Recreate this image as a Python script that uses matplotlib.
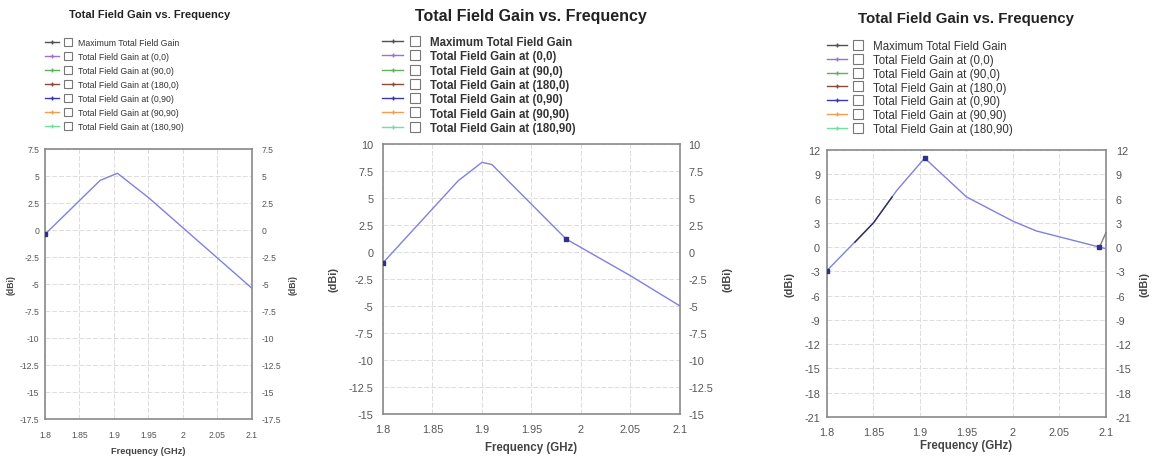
import numpy as np
import matplotlib.pyplot as plt
from matplotlib.lines import Line2D
from matplotlib.legend_handler import HandlerTuple

plt.rcParams['font.family'] = ['Liberation Sans', 'DejaVu Sans']
plt.rcParams['axes.unicode_minus'] = False

# ---- data ----
freq_ticks = [1.8, 1.85, 1.9, 1.95, 2.0, 2.05, 2.1]
freq_tick_labels = ['1.8', '1.85', '1.9', '1.95', '2', '2.05', '2.1']

legend_labels = ['Maximum Total Field Gain', 'Total Field Gain at (0,0)', 'Total Field Gain at (90,0)',
                 'Total Field Gain at (180,0)', 'Total Field Gain at (0,90)', 'Total Field Gain at (90,90)',
                 'Total Field Gain at (180,90)']
legend_colors = ['#505050', '#a070d0', '#60b060', '#8a4a3a', '#3838b0', '#f0a050', '#70e0a0']

# panel 1
freq1 = [1.8, 1.88, 1.905, 1.95, 2.1]
gain1 = [-0.4, 4.6, 5.25, 3.0, -5.4]
mark1 = [0]
yticks1 = [7.5, 5, 2.5, 0, -2.5, -5, -7.5, -10, -12.5, -15, -17.5]

# panel 2
freq2 = [1.8, 1.876, 1.9, 1.91, 1.985, 2.05, 2.1]
gain2 = [-1.0, 6.6, 8.3, 8.1, 1.2, -2.2, -5.0]
mark2 = [0, 4]
yticks2 = [10, 7.5, 5, 2.5, 0, -2.5, -5, -7.5, -10, -12.5, -15]

# panel 3
freq3 = [1.8, 1.85, 1.875, 1.905, 1.95, 2.0, 2.025, 2.093, 2.1]
gain3 = [-2.9, 3.0, 7.0, 11.0, 6.2, 3.2, 2.0, 0.0, -0.2]
mark3 = [0, 3, 7]
yticks3 = [12, 9, 6, 3, 0, -3, -6, -9, -12, -15, -18, -21]
max_freq3 = [1.83, 1.85, 1.87]
max_gain3 = [0.6, 3.0, 6.2]
max_end_freq3 = [2.093, 2.1]
max_end_gain3 = [0.0, 1.8]

W, H = 1156, 460
fig = plt.figure(figsize=(W / 100, H / 100), dpi=100)


def px(x0, y0, x1, y1):
    return [x0 / W, 1 - y1 / H, (x1 - x0) / W, (y1 - y0) / H]


def fmt(v):
    return ('%g' % v)


def panel(rect, freq, gain, marks, yticks, fs, pads, xlpad, ylpads, title, title_xy, title_fs,
          leg_xy, leg_fs, leg_sp, leg_hl, leg_w):
    ax = fig.add_axes(px(*rect))
    ax.plot(freq, gain, color='#8080e0', lw=1.0, zorder=3)
    ax.plot([freq[i] for i in marks], [gain[i] for i in marks], 's', color='#30308a', ms=3.5, zorder=4)
    ax.set_xlim(1.8, 2.1)
    ax.set_ylim(min(yticks), max(yticks))
    ax.set_xticks(freq_ticks)
    ax.set_xticklabels(freq_tick_labels)
    ax.set_yticks(yticks)
    ax.set_yticklabels([fmt(v) for v in yticks])
    ax.grid(True, color='#dcdcdc', lw=0.7, ls=(0, (5, 2)))
    for s in ax.spines.values():
        s.set_color('#8a8a8a')
        s.set_linewidth(1.2)
    ax.tick_params(axis='x', length=0, labelsize=fs, colors='#555555', pad=pads[0])
    ax.tick_params(axis='y', length=0, labelsize=fs, colors='#555555', pad=pads[1])
    ax.set_xlabel('Frequency (GHz)', fontsize=fs + 0.5, fontweight='bold', color='#444444', labelpad=xlpad)
    ax.set_ylabel('(dBi)', fontsize=fs, fontweight='bold', color='#444444', labelpad=ylpads[0])
    ax2 = ax.twinx()
    ax2.set_ylim(ax.get_ylim())
    ax2.set_yticks(yticks)
    ax2.set_yticklabels([fmt(v) for v in yticks])
    ax2.tick_params(length=0, labelsize=fs, colors='#555555', pad=pads[2])
    for s in ax2.spines.values():
        s.set_visible(False)
    ax2.set_ylabel('(dBi)', fontsize=fs, fontweight='bold', color='#444444', labelpad=ylpads[1])
    fig.text(title_xy[0] / W, 1 - title_xy[1] / H, title, ha='center', va='center',
             fontsize=title_fs, fontweight='bold', color='#222222')
    handles = []
    for c in legend_colors:
        ln = Line2D([], [], color=c, lw=1.0, marker='+', ms=3, mew=1.0)
        box = Line2D([], [], ls='none', marker='s', ms=leg_fs * 0.85, mfc='white', mec='#777777', mew=0.8)
        handles.append((ln, box))
    ax.legend(handles, legend_labels, loc='upper left', bbox_to_anchor=(leg_xy[0] / W, 1 - leg_xy[1] / H),
              bbox_transform=fig.transFigure, frameon=False,
              prop={'size': leg_fs, 'weight': leg_w}, labelspacing=leg_sp,
              handlelength=leg_hl, handletextpad=0.4, borderpad=0, borderaxespad=0,
              handler_map={tuple: HandlerTuple(ndivide=2, pad=0.1)},
              labelcolor='#333333')
    return ax


ax1 = panel((45, 150, 252, 420), freq1, gain1, mark1, yticks1, 6.2, (8, 4, 7), 5, (3, 5),
            'Total Field Gain vs. Frequency', (150, 15), 8, (45, 39), 6.3, 0.58, 3.4, 'normal')
ax2 = panel((383, 145, 680, 415), freq2, gain2, mark2, yticks2, 7.8, (7, 7, 6), 5, (7, 7),
            'Total Field Gain vs. Frequency', (531, 16), 11.5, (382, 37), 8.3, 0.2, 3.8, 'bold')
ax3 = panel((827, 151, 1106, 418), freq3, gain3, mark3, yticks3, 7.8, (7, 5, 7), 2, (7, 6),
            'Total Field Gain vs. Frequency', (966, 19), 10.8, (827, 41), 8.3, 0.16, 3.6, 'normal')
ax3.plot(max_freq3, max_gain3, color='#303050', lw=1.0, zorder=3)
ax3.plot(max_end_freq3, max_end_gain3, color='#808080', lw=1.0, zorder=3, clip_on=False)

fig.savefig('out.png', dpi=100)
